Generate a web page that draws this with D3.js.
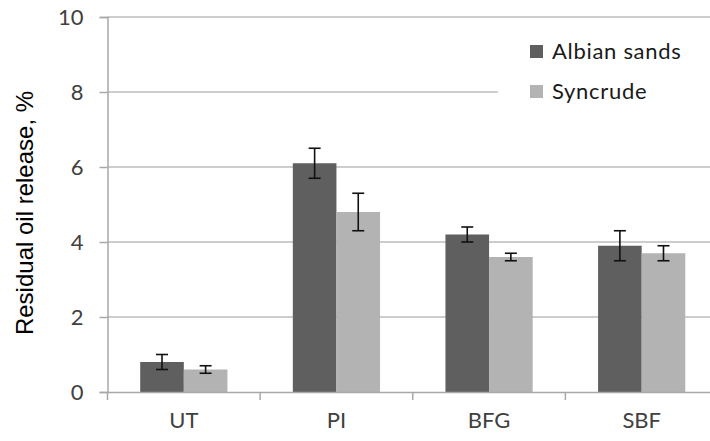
<!DOCTYPE html>
<html><head><meta charset="utf-8">
<script src="https://cdn.jsdelivr.net/npm/d3@7"></script>
<style>body{margin:0;background:#fff}svg{display:block}</style>
</head><body>
<svg id="c" width="710" height="441"></svg>
<script>
const categories = ["UT", "PI", "BFG", "SBF"];
const seriesNames = ["Albian sands", "Syncrude"];
const albianValues = [0.8, 6.1, 4.2, 3.9];
const albianErrors = [0.2, 0.4, 0.2, 0.4];
const syncrudeValues = [0.6, 4.8, 3.6, 3.7];
const syncrudeErrors = [0.1, 0.5, 0.1, 0.2];
const yTicks = [0, 2, 4, 6, 8, 10];
const yTitle = "Residual oil release, %";

(function () {
const colors = ["#5f5f5f", "#b3b3b3"];
const svg = d3.select("#c");
const pLeft = 107.5, pRight = 718, pTop = 17, pBottom = 392;
const font = "Lato, 'Open Sans', sans-serif";

const x = d3.scaleBand().domain(categories).range([pLeft, pRight]).paddingInner(0).paddingOuter(0);
const x1 = d3.scaleBand().domain(seriesNames).range([0, x.bandwidth()]).paddingInner(0).paddingOuter(0.75);
const y = d3.scaleLinear().domain([0, 10]).range([pBottom, pTop]);

// gridlines
svg.append("g").selectAll("line").data(yTicks.filter(d => d > 0)).join("line")
  .attr("x1", pLeft).attr("x2", 710).attr("y1", d => y(d)).attr("y2", d => y(d))
  .attr("stroke", "#bcbcbc").attr("stroke-width", 1.5);

// y axis
const yAxis = svg.append("g").attr("transform", `translate(${pLeft},0)`)
  .call(d3.axisLeft(y).tickValues(yTicks).tickSize(8).tickPadding(16).tickFormat(d3.format("d")));
yAxis.select(".domain").attr("stroke", "#a8a8a8").attr("stroke-width", 1.5);
yAxis.selectAll(".tick line").attr("stroke", "#a8a8a8").attr("stroke-width", 1.5);
yAxis.selectAll("text").attr("font-family", font).attr("font-size", 22).attr("fill", "#404040");

const data = categories.map((c, i) => ({cat: c, vals: [
  {s: seriesNames[0], v: albianValues[i], e: albianErrors[i], k: 0},
  {s: seriesNames[1], v: syncrudeValues[i], e: syncrudeErrors[i], k: 1}]}));

// bars
const groups = svg.append("g").selectAll("g").data(data).join("g")
  .attr("transform", d => `translate(${x(d.cat)},0)`);
groups.selectAll("rect").data(d => d.vals).join("rect")
  .attr("x", d => x1(d.s)).attr("width", x1.bandwidth())
  .attr("y", d => y(d.v)).attr("height", d => y(0) - y(d.v))
  .attr("fill", d => colors[d.k]);

// x axis
const xAxis = svg.append("g").attr("transform", `translate(0,${pBottom})`)
  .call(d3.axisBottom(x).tickSize(0).tickPadding(20));
xAxis.select(".domain").attr("stroke", "#a8a8a8").attr("stroke-width", 1.5);
xAxis.selectAll("text").attr("font-family", font).attr("font-size", 22).attr("fill", "#404040");
svg.append("g").selectAll("line").data(categories).join("line")
  .attr("x1", d => x(d)).attr("x2", d => x(d)).attr("y1", pBottom).attr("y2", pBottom + 8)
  .attr("stroke", "#a8a8a8").attr("stroke-width", 1.5);

// error bars
const eb = groups.selectAll("g.err").data(d => d.vals).join("g").attr("class", "err");
eb.append("line").attr("x1", d => x1(d.s) + x1.bandwidth() / 2).attr("x2", d => x1(d.s) + x1.bandwidth() / 2)
  .attr("y1", d => y(d.v + d.e)).attr("y2", d => y(d.v - d.e)).attr("stroke", "#111").attr("stroke-width", 1.6);
[1, -1].forEach(sg => {
  eb.append("line").attr("x1", d => x1(d.s) + x1.bandwidth() / 2 - 6).attr("x2", d => x1(d.s) + x1.bandwidth() / 2 + 6)
    .attr("y1", d => y(d.v + sg * d.e)).attr("y2", d => y(d.v + sg * d.e)).attr("stroke", "#111").attr("stroke-width", 1.6);
});

// legend
const lg = svg.append("g");
lg.append("rect").attr("x", 498).attr("y", 30).attr("width", 212).attr("height", 82).attr("fill", "#fff");
seriesNames.forEach((s, i) => {
  lg.append("rect").attr("x", 530).attr("y", 45 + i * 40).attr("width", 13).attr("height", 13).attr("fill", colors[i]);
  lg.append("text").attr("x", 552).attr("y", 58.5 + i * 40.5).text(s)
    .attr("font-family", font).attr("font-size", 22).attr("letter-spacing", 0.7).attr("fill", "#1a1a1a");
});

// y title
svg.append("text").attr("transform", `translate(33,213) rotate(-90)`).attr("text-anchor", "middle")
  .attr("font-family", "'Liberation Sans', Arial, sans-serif").attr("font-size", 24).attr("fill", "#000").text(yTitle);
})();
</script>
</body></html>
